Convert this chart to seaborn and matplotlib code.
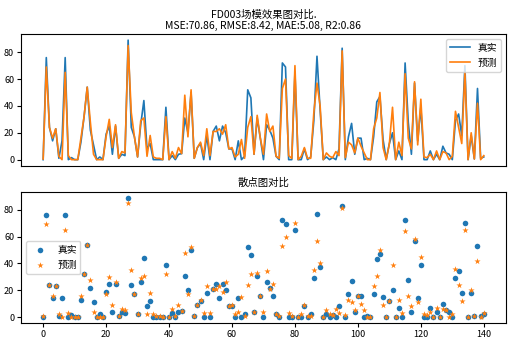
import numpy as np
import pandas as pd
import matplotlib
matplotlib.use("Agg")
import matplotlib.pyplot as plt
import seaborn as sns

# values (index 0..140)
y_true = [
    0, 76, 24, 14, 23, 1, 14, 76, 0, 1.5,
    0, 0, 13, 32, 54, 22, 11, 0, 2, 0,
    19, 25, 4, 25, 1, 4, 3, 89, 24, 17,
    2, 26, 44, 8, 12, 0, 0, 0, 0, 39,
    0, 3, 0, 4, 4.5, 31, 20, 50, 1, 9,
    12, 0, 18, 0, 21, 25, 14, 25, 20, 8,
    8, 0, 14, 0, 2.5, 52, 46, 4, 31, 16,
    0, 26, 22, 16, 2.5, 0, 72, 69, 0, 0,
    65, 0, 0, 8, 0, 2, 29, 77, 37, 0,
    2, 0, 1.5, 0, 8, 83, 0, 17, 27, 4,
    16, 16, 0, 1, 0, 17, 43, 47, 15, 0,
    12, 20, 0, 6.5, 0, 72, 28, 4, 57, 14,
    39, 0, 0, 6.5, 0, 4, 0, 10, 5, 4,
    0, 29, 34, 18, 70, 0, 18, 0.5, 53, 1,
    2,
]
y_pred = [
    0.5, 69, 24, 16, 23, 2.5, 0, 65, 3, 0,
    0, 0, 16, 32, 54, 28, 4, 0, 0, 0,
    17, 30, 9, 26, 1, 6, 5, 85, 35, 17,
    2, 29, 31, 2.5, 18, 2, 1, 1, 0, 32,
    0, 6, 1, 9, 4.5, 48, 17, 52, 1, 9,
    13, 3, 23, 3, 21, 21, 23, 19, 26, 8,
    9, 2, 4, 15, 1, 24, 32, 4, 33, 16,
    4, 34, 21, 25, 2.5, 1, 53, 60, 3, 1,
    70, 0, 2.5, 9, 1, 1, 35, 57, 40, 0,
    5, 2.5, 1.5, 6, 3, 81, 1.5, 13, 11, 5,
    16, 10, 5, 0, 0, 23, 31, 50, 9, 0,
    12, 39, 0, 13, 3, 64, 16, 8, 58, 11,
    45, 2, 1.5, 4, 0, 6.5, 0, 6, 5, 0,
    2.5, 36, 24, 12, 65, 0, 20, 0.5, 42, 0,
    3,
]
title_top = "FD003场模效果图对比.\nMSE:70.86, RMSE:8.42, MAE:5.08, R2:0.86"
title_bottom = "散点图对比"
lab_true = "真实"
lab_pred = "预测"


def main():
    plt.rcParams['font.family'] = ['Noto Sans CJK SC', 'DejaVu Sans']
    plt.rcParams['axes.unicode_minus'] = False
    plt.rcParams['font.size'] = 7

    df = pd.DataFrame({"idx": np.arange(len(y_true)), "true": y_true, "pred": y_pred})

    fig, (ax1, ax2) = plt.subplots(2, 1, figsize=(5.28, 3.52), dpi=100)
    fig.subplots_adjust(left=0.040, right=0.958, top=0.903, bottom=0.082, hspace=0.198)

    # 1. line comparison
    sns.lineplot(data=df, x="idx", y="true", color="#1f77b4", linewidth=1.2, label=lab_true, ax=ax1)
    sns.lineplot(data=df, x="idx", y="pred", color="#ff7f0e", linewidth=1.2, label=lab_pred, ax=ax1)
    ax1.set_title(title_top, fontsize=7.5, linespacing=1.1, pad=4)
    ax1.set_xlabel("")
    ax1.set_ylabel("")
    ax1.set_xticks([])
    ax1.set_yticks([0, 20, 40, 60, 80])
    ax1.legend(loc="upper right", fontsize=7)

    # 2. scatter comparison
    sns.scatterplot(data=df, x="idx", y="true", color="#1f77b4", marker="o", s=16,
                    linewidth=0, label=lab_true, ax=ax2)
    sns.scatterplot(data=df, x="idx", y="pred", color="#ff7f0e", marker="*", s=22,
                    linewidth=0, label=lab_pred, ax=ax2)
    ax2.set_title(title_bottom, fontsize=7.5, pad=4)
    ax2.set_xlabel("")
    ax2.set_ylabel("")
    ax2.set_xticks([0, 20, 40, 60, 80, 100, 120, 140])
    ax2.set_yticks([0, 20, 40, 60, 80])
    ax2.legend(loc="center left", fontsize=7)

    for ax in (ax1, ax2):
        ax.tick_params(labelsize=6.5, length=3, pad=2)
        ax.margins(x=0.05, y=0.05)

    plt.savefig("out.png", dpi=100)
    plt.close()


if __name__ == "__main__":
    main()
